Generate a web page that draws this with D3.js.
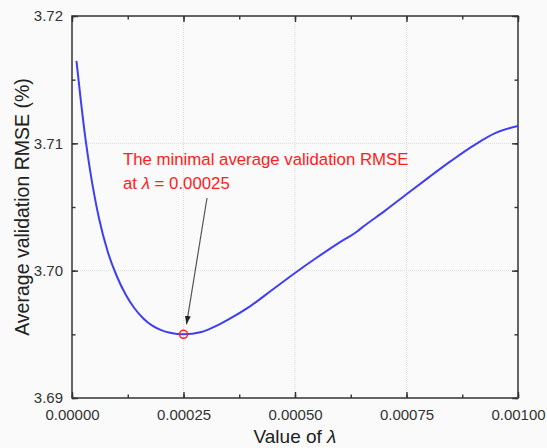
<!DOCTYPE html>
<html>
<head>
<meta charset="utf-8">
<script src="https://cdn.jsdelivr.net/npm/d3@7"></script>
<style>
  body { margin: 0; background: #fafafa; }
  svg { display: block; font-family: "Liberation Sans", Arial, sans-serif; }
</style>
</head>
<body>
<svg id="chart" width="547" height="448"></svg>
<script>
// values
const lambdas = [0.00001, 0.00002, 0.00003, 0.00004, 0.00005, 0.00006, 0.00008, 0.0001, 0.00012,
  0.00014, 0.00016, 0.00018, 0.0002, 0.00022, 0.00025, 0.00029, 0.00032, 0.00035, 0.0004,
  0.00045, 0.0005, 0.00055, 0.0006, 0.00064, 0.00065, 0.0007, 0.00075, 0.0008, 0.00085,
  0.0009, 0.00095, 0.001]
const rmse = [3.71647, 3.71330, 3.71040, 3.70800, 3.70595, 3.70420, 3.70150, 3.69960, 3.69815,
  3.69705, 3.69625, 3.69568, 3.69533, 3.69512, 3.69500, 3.69518, 3.69561, 3.69616, 3.69722,
  3.69852, 3.69982, 3.70105, 3.70222, 3.70310, 3.70338, 3.70466, 3.70600, 3.70733, 3.70862,
  3.70982, 3.71082, 3.71136]
const xTicks = [0, 0.00025, 0.0005, 0.00075, 0.001]
const yTicks = [3.69, 3.70, 3.71, 3.72]
const minLambda = 0.00025, minRmse = 3.6950

const svg = d3.select('#chart')
const pLeft = 72, pRight = 518, pTop = 16, pBottom = 398

const x = d3.scaleLinear().domain([0, 0.001]).range([pLeft, pRight])
const y = d3.scaleLinear().domain([3.69, 3.72]).range([pBottom, pTop])

svg.append('rect').attr('width', 547).attr('height', 448).attr('fill', '#fafafa')

// grid
svg.append('g').selectAll('line')
  .data(xTicks.slice(1, -1)).enter().append('line')
  .attr('x1', d => x(d)).attr('x2', d => x(d))
  .attr('y1', pTop).attr('y2', pBottom)
  .attr('stroke', '#dcdcdc').attr('stroke-width', 1).attr('stroke-dasharray', '1,1')
svg.append('g').selectAll('line')
  .data(yTicks.slice(1, -1)).enter().append('line')
  .attr('y1', d => y(d)).attr('y2', d => y(d))
  .attr('x1', pLeft).attr('x2', pRight)
  .attr('stroke', '#dcdcdc').attr('stroke-width', 1).attr('stroke-dasharray', '1,1')

// axes, ticks pointing inward
const xMinor = d3.range(0, 0.001 + 1e-9, 0.000125)
const yMinor = d3.range(3.69, 3.72 + 1e-9, 0.005)

const axes = [
  d3.axisBottom(x).tickValues(xTicks).tickSize(-6).tickPadding(11).tickFormat(d3.format('.5f')),
  d3.axisTop(x).tickValues(xTicks).tickSize(-6).tickFormat(''),
  d3.axisLeft(y).tickValues(yTicks).tickSize(-6).tickPadding(9).tickFormat(d3.format('.2f')),
  d3.axisRight(y).tickValues(yTicks).tickSize(-6).tickFormat('')
]
const minors = [
  d3.axisBottom(x).tickValues(xMinor).tickSize(-3.5).tickFormat(''),
  d3.axisTop(x).tickValues(xMinor).tickSize(-3.5).tickFormat(''),
  d3.axisLeft(y).tickValues(yMinor).tickSize(-3.5).tickFormat(''),
  d3.axisRight(y).tickValues(yMinor).tickSize(-3.5).tickFormat('')
]
const shifts = [`translate(0,${pBottom})`, `translate(0,${pTop})`, `translate(${pLeft},0)`, `translate(${pRight},0)`]

minors.forEach((a, i) => {
  const g = svg.append('g').attr('transform', shifts[i]).call(a)
  g.select('.domain').remove()
  g.selectAll('line').attr('stroke', '#333').attr('stroke-width', 1.4)
})
axes.forEach((a, i) => {
  const g = svg.append('g').attr('transform', shifts[i]).call(a)
  g.select('.domain').remove()
  g.selectAll('line').attr('stroke', '#333').attr('stroke-width', 1.4)
  g.selectAll('text').attr('font-size', 15).attr('fill', '#333')
    .attr('font-family', '"Liberation Sans", Arial, sans-serif')
})

svg.append('rect')
  .attr('x', pLeft).attr('y', pTop).attr('width', pRight - pLeft).attr('height', pBottom - pTop)
  .attr('fill', 'none').attr('stroke', '#333').attr('stroke-width', 1.5)

// curve
const data = lambdas.map((l, i) => [l, rmse[i]])
const line = d3.line().x(d => x(d[0])).y(d => y(d[1])).curve(d3.curveMonotoneX)
svg.append('path').attr('d', line(data))
  .attr('fill', 'none').attr('stroke', '#3f3ff0').attr('stroke-width', 2)

// minimum marker
svg.append('circle')
  .attr('cx', x(minLambda)).attr('cy', y(minRmse)).attr('r', 4)
  .attr('fill', 'none').attr('stroke', '#ff2020').attr('stroke-width', 1.5)

// arrow
svg.append('defs').append('marker')
  .attr('id', 'head').attr('viewBox', '0 0 10 10')
  .attr('refX', 10).attr('refY', 5)
  .attr('markerWidth', 7).attr('markerHeight', 7)
  .attr('orient', 'auto')
  .append('path').attr('d', 'M0,1.5L10,5L0,8.5Z').attr('fill', '#222')

svg.append('line')
  .attr('x1', 207).attr('y1', 198)
  .attr('x2', x(minLambda) + 3).attr('y2', y(minRmse) - 10)
  .attr('stroke', '#555').attr('stroke-width', 1.2)
  .attr('marker-end', 'url(#head)')

// annotation
const note = svg.append('text').attr('fill', '#ff2020').attr('font-size', 16.8)
note.append('tspan').attr('x', 123).attr('y', 165).text('The minimal average validation RMSE')
const l2 = note.append('tspan').attr('x', 123).attr('y', 189)
l2.append('tspan').text('at ')
l2.append('tspan').attr('font-style', 'italic').text('λ')
l2.append('tspan').text(' = 0.00025')

// axis titles
const xt = svg.append('text').attr('x', (pLeft + pRight) / 2).attr('y', 443)
  .attr('text-anchor', 'middle').attr('font-size', 19).attr('fill', '#222')
xt.append('tspan').text('Value of ')
xt.append('tspan').attr('font-style', 'italic').text('λ')

svg.append('text')
  .attr('transform', `translate(29,${(pTop + pBottom) / 2}) rotate(-90)`)
  .attr('text-anchor', 'middle').attr('font-size', 19.5).attr('fill', '#222')
  .text('Average validation RMSE (%)')
</script>
</body>
</html>
